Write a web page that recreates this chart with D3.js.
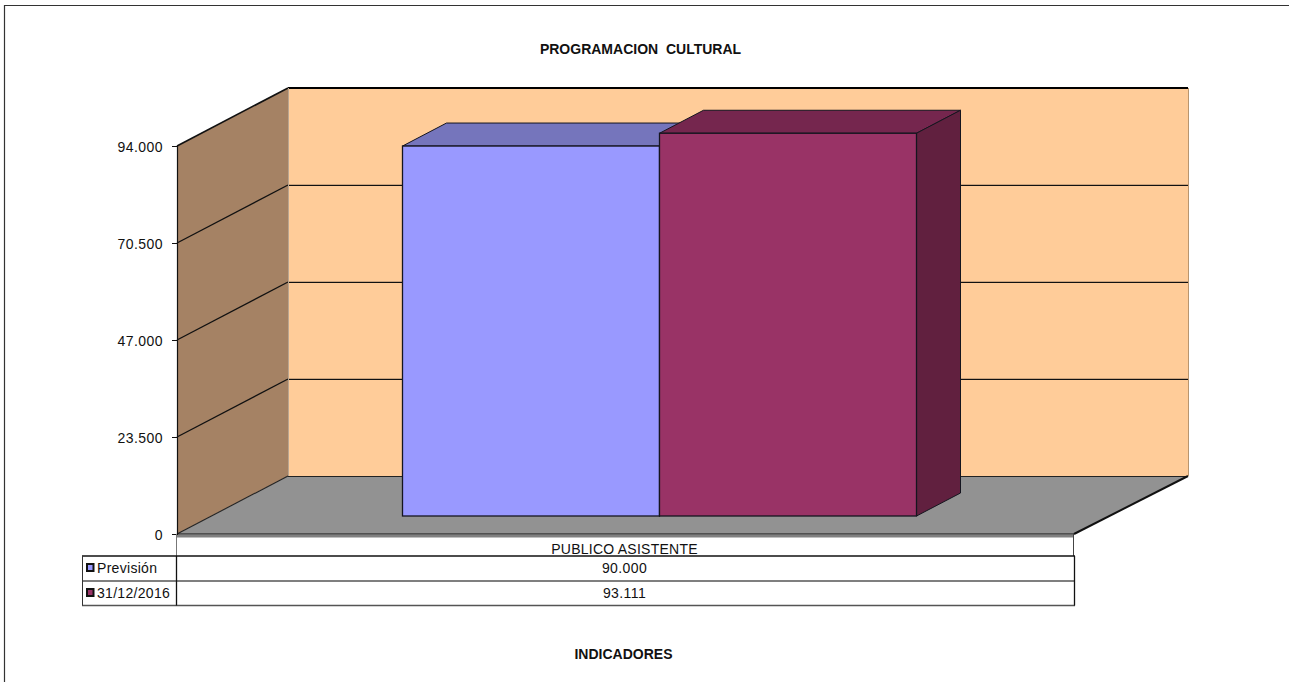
<!DOCTYPE html>
<html><head><meta charset="utf-8">
<script src="https://cdn.jsdelivr.net/npm/d3@7"></script>
<style>
html,body{margin:0;padding:0;background:#fff}
svg{display:block}
text{font-family:"Liberation Sans",Arial,sans-serif;fill:#111}
</style></head><body>
<svg id="c" width="1289" height="682"></svg>
<script>
const title = "PROGRAMACION  CULTURAL";
const xTitle = "INDICADORES";
const categories = ["PUBLICO ASISTENTE"];
const seriesNames = ["Previsión", "31/12/2016"];
const seriesValues = [[90000], [93111]];
const seriesLabels = [["90.000"], ["93.111"]];
const tickValues = [0, 23500, 47000, 70500, 94000];
const tickLabels = ["0", "23.500", "47.000", "70.500", "94.000"];
const seriesColors = ["#9999FF", "#993366"];
const seriesTops = ["#7575BC", "#75264E"];
const seriesSides = ["#5E5E9E", "#61203F"];

const svg = d3.select("#c");
const ln = (x1,y1,x2,y2,c,w)=>svg.append("line").attr("x1",x1).attr("y1",y1).attr("x2",x2).attr("y2",y2).attr("stroke",c).attr("stroke-width",w);
const poly = (pts,f,s,w)=>svg.append("polygon").attr("points",pts.map(p=>p.join(",")).join(" ")).attr("fill",f).attr("stroke",s||"none").attr("stroke-width",w||0);

// frame (only top and left edges appear)
ln(4,5.5,1289,5.5,"#333",1.2);
ln(4.5,5,4.5,682,"#333",1.2);

// 3D frame
const L=177, R=1074, dX=111, dY=-58;
const y = d3.scaleLinear().domain([0,94000]).range([534,146]);
const yTop = y(94000), yBot = y(0);

poly([[L+dX,yTop+dY],[R+dX+3,yTop+dY],[R+dX+3,yBot+dY],[L+dX,yBot+dY]],"#FFCC99");
poly([[L,yTop],[L+dX,yTop+dY],[L+dX,yBot+dY],[L,yBot]],"#A58264");
poly([[L,yBot],[L+dX,yBot+dY],[R+dX+3,yBot+dY],[R,yBot]],"#929292");

// grid on back wall and side wall
tickValues.slice(1,-1).forEach(v=>{
  ln(L+dX,y(v)+dY-.5,R+dX+3,y(v)+dY-.5,"#C9A27C",1);
  ln(L+dX,y(v)+dY+.5,R+dX+3,y(v)+dY+.5,"#111",1);
  ln(L,y(v),L+dX,y(v)+dY,"#111",1.3);
});
ln(L+dX,yTop+dY,R+dX+3,yTop+dY,"#000",2);
ln(L,yTop,L+dX,yTop+dY,"#111",1.6);
ln(L,yBot,L+dX,yBot+dY,"#222",1.1);
ln(L+dX,yBot+dY+.5,R+dX+3,yBot+dY+.5,"#222",1);
ln(L+dX+.5,yTop+dY,L+dX+.5,yBot+dY,"#B9A590",1);
ln(R+dX+3.5,yTop+dY,R+dX+3.5,yBot+dY,"#B8956F",1);
ln(R,yBot,R+dX+3,yBot+dY,"#111",2);

// bars
const x = d3.scaleBand().domain(seriesNames).range([402.5,916.5]).padding(0);
const barY = d3.scaleLinear().domain([0,94000]).range([516,129.6]);
const bX=44, bY=-23;
seriesNames.forEach((name,i)=>{
  const v=seriesValues[i][0], x0=x(name), x1=x0+x.bandwidth(), t=barY(v), b=barY(0);
  poly([[x0,t],[x0+bX,t+bY],[x1+bX,t+bY],[x1,t]],seriesTops[i],"#15151f",1);
  poly([[x1,t],[x1+bX,t+bY],[x1+bX,b+bY],[x1,b]],seriesSides[i],"#15151f",1);
  svg.append("rect").attr("x",x0).attr("y",t).attr("width",x.bandwidth()).attr("height",b-t)
    .attr("fill",seriesColors[i]).attr("stroke","#15151f").attr("stroke-width",1.3);
});

// floor front edge band + axis
svg.append("rect").attr("x",L).attr("y",yBot+.5).attr("width",R-L).attr("height",3).attr("fill","#808080");
const axis = d3.axisLeft(y).tickValues(tickValues).tickSize(5).tickPadding(9)
  .tickFormat((d,i)=>tickLabels[i]);
const ag = svg.append("g").attr("transform",`translate(${L},0)`).call(axis);
ag.select(".domain").attr("stroke","#111").attr("stroke-width",1.2);
ag.selectAll("line").attr("stroke","#111");
ag.selectAll("text").attr("font-size",14).attr("dy","0.36em").attr("letter-spacing",0.45).attr("font-family",'"Liberation Sans",Arial,sans-serif').attr("fill","#222");
ln(L,yBot,R,yBot,"#111",1.2);

// data table
const rowY=[556,581,605.5], tL=82, tD=176.5, tR=1075;
ln(L-.5,yBot,L-.5,rowY[0],"#777",1);
ln(R-.5,yBot,R-.5,rowY[0],"#444",1);
ln(tL,rowY[0],tR,rowY[0],"#111",1.3);
ln(tL,rowY[1],tR,rowY[1],"#555",1.5);
ln(tL,rowY[2],tR,rowY[2],"#555",1.5);
ln(tL+.5,rowY[0],tL+.5,rowY[2],"#333",1);
ln(tD,rowY[0],tD,rowY[2],"#111",1.3);
ln(tR-.5,rowY[0],tR-.5,rowY[2],"#111",1.3);

const T=(s,xx,yy,fs,a,bold)=>svg.append("text").attr("x",xx).attr("y",yy).attr("font-size",fs).attr("text-anchor",a).attr("font-weight",bold?"bold":"normal").text(s);
T(categories[0],624.5,553.5,14,"middle").attr("letter-spacing",0.25);
seriesNames.forEach((n,i)=>{
  const yy=rowY[i];
  svg.append("rect").attr("x",87).attr("y",yy+8).attr("width",6.5).attr("height",7).attr("fill",seriesColors[i]).attr("stroke","#111").attr("stroke-width",2);
  T(n,97,yy+17,14,"start").attr("letter-spacing",0.3);
  T(seriesLabels[i][0],624.5,yy+17,14,"middle").attr("letter-spacing",0.4);
});
T(title,640.5,54,14,"middle",true).style("white-space","pre");
T(xTitle,623.5,659,14,"middle",true);
</script>
</body></html>
